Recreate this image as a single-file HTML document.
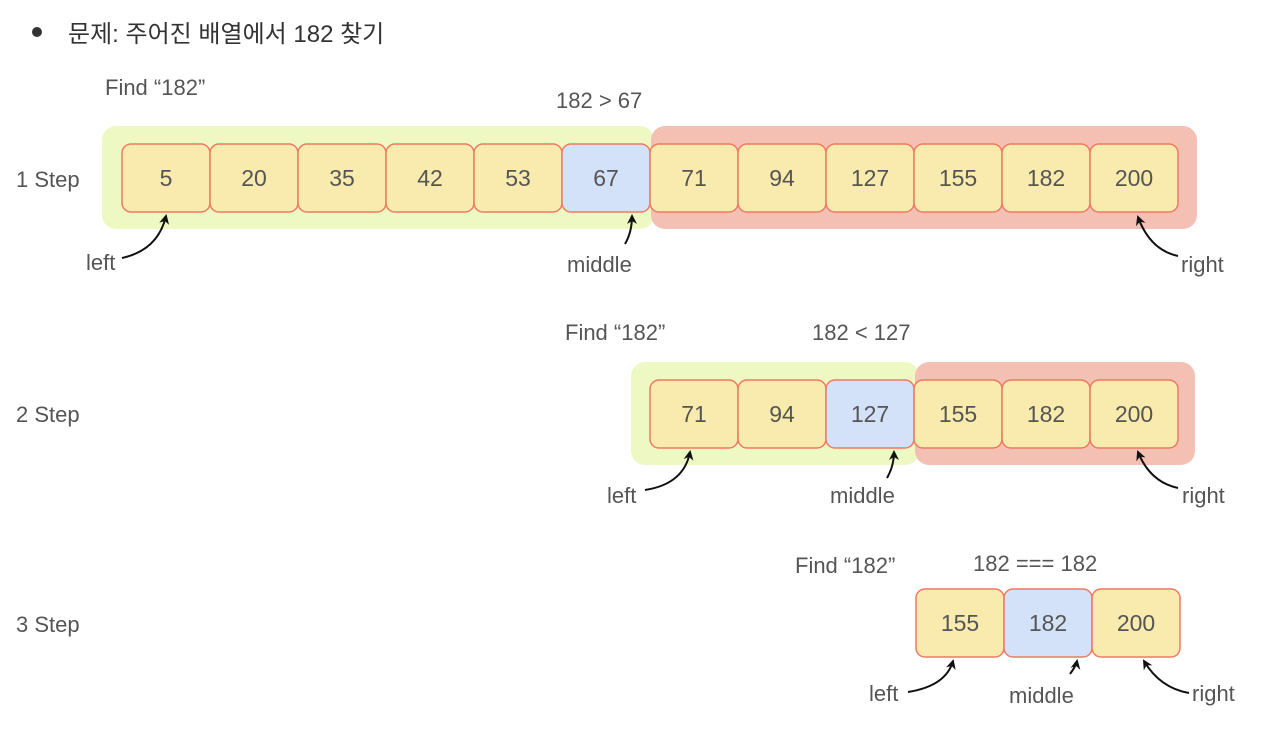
<!DOCTYPE html>
<html><head><meta charset="utf-8"><style>
html,body{margin:0;padding:0;background:#fff;width:1262px;height:734px;overflow:hidden}
svg text{font-family:"Liberation Sans","Noto Sans CJK KR",sans-serif}
.c{fill:#f9eaad;stroke:#ee7a62;stroke-width:1.5}
.m{fill:#d3e2f8;stroke:#ee7a62;stroke-width:1.5}
.n{font-size:23px;fill:#555;text-anchor:middle}
.l{font-size:22px;fill:#555}
.a{fill:none;stroke:#111;stroke-width:2}
</style></head><body>
<svg width="1262" height="734" viewBox="0 0 1262 734" xmlns="http://www.w3.org/2000/svg">
<defs><marker id="ah" markerWidth="10" markerHeight="10" refX="8" refY="5" orient="auto" markerUnits="userSpaceOnUse"><path d="M0,0 L10,5 L0,10 L3,5 Z" fill="#111"/></marker></defs>
<circle cx="37" cy="32" r="5" fill="#333"/>
<text x="68" y="42" style="font-size:24px;fill:#333">문제: 주어진 배열에서 182 찾기</text>

<!-- Step 1 -->
<text class="l" x="16" y="187">1 Step</text>
<text class="l" x="105" y="95">Find “182”</text>
<text class="l" x="556" y="108">182 &gt; 67</text>
<rect x="102" y="126" width="552" height="103" rx="14" fill="#eef8c2"/>
<rect x="651" y="126" width="546" height="103" rx="14" fill="#f4c0b3"/>
<g>
<rect class="c" x="122" y="144" width="88" height="68" rx="9"/><text class="n" x="166" y="186">5</text>
<rect class="c" x="210" y="144" width="88" height="68" rx="9"/><text class="n" x="254" y="186">20</text>
<rect class="c" x="298" y="144" width="88" height="68" rx="9"/><text class="n" x="342" y="186">35</text>
<rect class="c" x="386" y="144" width="88" height="68" rx="9"/><text class="n" x="430" y="186">42</text>
<rect class="c" x="474" y="144" width="88" height="68" rx="9"/><text class="n" x="518" y="186">53</text>
<rect class="m" x="562" y="144" width="88" height="68" rx="9"/><text class="n" x="606" y="186">67</text>
<rect class="c" x="650" y="144" width="88" height="68" rx="9"/><text class="n" x="694" y="186">71</text>
<rect class="c" x="738" y="144" width="88" height="68" rx="9"/><text class="n" x="782" y="186">94</text>
<rect class="c" x="826" y="144" width="88" height="68" rx="9"/><text class="n" x="870" y="186">127</text>
<rect class="c" x="914" y="144" width="88" height="68" rx="9"/><text class="n" x="958" y="186">155</text>
<rect class="c" x="1002" y="144" width="88" height="68" rx="9"/><text class="n" x="1046" y="186">182</text>
<rect class="c" x="1090" y="144" width="88" height="68" rx="9"/><text class="n" x="1134" y="186">200</text>
</g>
<text class="l" x="86" y="270">left</text>
<text class="l" x="567" y="272">middle</text>
<text class="l" x="1181" y="272">right</text>
<path class="a" d="M122,258 Q158,250 166,216" marker-end="url(#ah)"/>
<path class="a" d="M625,244 Q632,232 632,216" marker-end="url(#ah)"/>
<path class="a" d="M1178,256 Q1150,250 1138,217" marker-end="url(#ah)"/>

<!-- Step 2 -->
<text class="l" x="16" y="422">2 Step</text>
<text class="l" x="565" y="340">Find “182”</text>
<text class="l" x="812" y="340">182 &lt; 127</text>
<rect x="631" y="362" width="288" height="103" rx="14" fill="#eef8c2"/>
<rect x="915" y="362" width="280" height="103" rx="14" fill="#f4c0b3"/>
<rect class="c" x="650" y="380" width="88" height="68" rx="9"/><text class="n" x="694" y="422">71</text>
<rect class="c" x="738" y="380" width="88" height="68" rx="9"/><text class="n" x="782" y="422">94</text>
<rect class="m" x="826" y="380" width="88" height="68" rx="9"/><text class="n" x="870" y="422">127</text>
<rect class="c" x="914" y="380" width="88" height="68" rx="9"/><text class="n" x="958" y="422">155</text>
<rect class="c" x="1002" y="380" width="88" height="68" rx="9"/><text class="n" x="1046" y="422">182</text>
<rect class="c" x="1090" y="380" width="88" height="68" rx="9"/><text class="n" x="1134" y="422">200</text>
<text class="l" x="607" y="503">left</text>
<text class="l" x="830" y="503">middle</text>
<text class="l" x="1182" y="503">right</text>
<path class="a" d="M645,490 Q684,484 690,452" marker-end="url(#ah)"/>
<path class="a" d="M887,478 Q894,466 894,452" marker-end="url(#ah)"/>
<path class="a" d="M1178,488 Q1150,482 1138,452" marker-end="url(#ah)"/>

<!-- Step 3 -->
<text class="l" x="16" y="632">3 Step</text>
<text class="l" x="795" y="573">Find “182”</text>
<text class="l" x="973" y="571">182 === 182</text>
<rect class="c" x="916" y="589" width="88" height="68" rx="9"/><text class="n" x="960" y="631">155</text>
<rect class="m" x="1004" y="589" width="88" height="68" rx="9"/><text class="n" x="1048" y="631">182</text>
<rect class="c" x="1092" y="589" width="88" height="68" rx="9"/><text class="n" x="1136" y="631">200</text>
<text class="l" x="869" y="701">left</text>
<text class="l" x="1009" y="703">middle</text>
<text class="l" x="1192" y="701">right</text>
<path class="a" d="M908,692 Q946,686 953,661" marker-end="url(#ah)"/>
<path class="a" d="M1070,674 Q1076,666 1077,661" marker-end="url(#ah)"/>
<path class="a" d="M1189,693 Q1160,688 1144,661" marker-end="url(#ah)"/>
</svg>
</body></html>
